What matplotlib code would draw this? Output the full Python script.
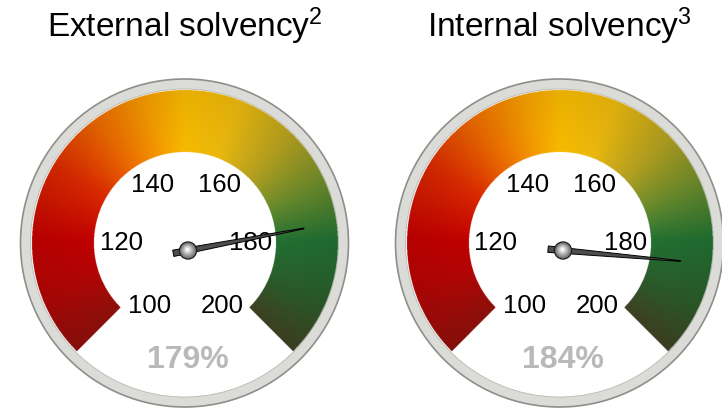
import numpy as np
import matplotlib
matplotlib.use("Agg")
from matplotlib import pyplot as plt
from matplotlib.patches import Circle, Polygon
from matplotlib.colors import LinearSegmentedColormap

plt.rcParams['mathtext.fontset'] = 'custom'
plt.rcParams['mathtext.rm'] = 'Liberation Sans'
plt.rcParams['mathtext.it'] = 'Liberation Sans'

# gauge data
titles = ['External solvency', 'Internal solvency']
notes = ['2', '3']
values = [179, 184]
scale_labels = [100, 120, 140, 160, 180, 200]
scale_min, scale_max = 100, 200

# layout (pixels, figure is 722x408 at dpi 100)
W, H = 722, 408
centres = [(184.5, 243.0), (559.5, 243.0)]
R_OUT, R_RING, R_BAND_OUT, R_BAND_IN = 164, 154, 153, 91
PIVOT_OFF = (3.5, 7.5)

# label scale and needle scale in degrees (0 = right, counter clockwise)
LBL_START, LBL_SWEEP = 240.0, 300.0
NDL_START, NDL_SWEEP = 262.0, 318.0

font = ['Liberation Sans', 'DejaVu Sans']

band = LinearSegmentedColormap.from_list('band', [
    (0.00, '#8c100b'), (0.10, '#b30505'), (0.17, '#c00000'),
    (0.28, '#da2a00'), (0.37, '#ec6c00'), (0.45, '#f5a000'),
    (0.50, '#f8ba00'), (0.58, '#eab80e'), (0.67, '#b3a020'),
    (0.75, '#6a8b2c'), (0.83, '#217032'), (0.92, '#2b5c2a'),
    (1.00, '#3e4123')])


def draw_band(ax, cx, cy):
    ss = 3
    n = int(2 * R_BAND_OUT + 4)
    x0, y0 = cx - n / 2, cy - n / 2
    xs = x0 + (np.arange(n * ss) + 0.5) / ss
    ys = y0 + (np.arange(n * ss) + 0.5) / ss
    X, Y = np.meshgrid(xs, ys)
    dx, dy = X - cx, cy - Y
    r = np.hypot(dx, dy)
    th = np.degrees(np.arctan2(dy, dx))
    th = np.where(th < -90, th + 360, th)
    t = (225 - th) / 270.0
    rgba = band(np.clip(t, 0, 1))
    # slight darkening toward the outer rim
    shade = 1 - 0.06 * np.clip((r - R_BAND_IN) / (R_BAND_OUT - R_BAND_IN), 0, 1)
    rgba[..., :3] *= shade[..., None]
    inside = (r >= R_BAND_IN) & (r <= R_BAND_OUT) & (t >= 0) & (t <= 1)
    rgba[..., 3] = inside
    ax.imshow(rgba, extent=(x0, x0 + n, y0 + n, y0), origin='upper',
              interpolation='antialiased', zorder=3)


def draw_gauge(ax, cx, cy, title, note, value):
    ax.add_patch(Circle((cx, cy), R_OUT, fc='#dbdbd7', ec='#8e8e8c', lw=1.2, zorder=1))
    ax.add_patch(Circle((cx, cy), R_RING, fc='white', ec='#b8b8b4', lw=0.6, zorder=2))
    draw_band(ax, cx, cy)

    # scale numbers, pushed out a little below the centre line
    for v in scale_labels:
        a = np.radians(LBL_START - LBL_SWEEP * (v - scale_min) / (scale_max - scale_min))
        rl = 65 + 9 * max(0.0, -np.sin(a)) + 4 * max(0.0, np.sin(a)) * abs(np.cos(a))
        ax.text(cx + 1.5 + rl * np.cos(a), cy - rl * np.sin(a), str(v), ha='center',
                va='center', fontsize=18.5, family=font, color='black', zorder=5)

    # needle
    px, py = cx + PIVOT_OFF[0], cy + PIVOT_OFF[1]
    a = np.radians(NDL_START - NDL_SWEEP * (value - scale_min) / (scale_max - scale_min))
    u = np.array([np.cos(a), -np.sin(a)])
    nrm = np.array([np.sin(a), np.cos(a)])
    p = np.array([px, py])
    pts = [p - 15 * u + 3.2 * nrm, p + 118 * u + 0.4 * nrm,
           p + 118 * u - 0.4 * nrm, p - 15 * u - 3.2 * nrm]
    ax.add_patch(Polygon(pts, closed=True, fc='#4e4e4e', ec='black', lw=0.7, zorder=6))

    # pivot ball
    ax.add_patch(Circle((px, py), 8.5, fc='#707070', ec='#1e1e1e', lw=1.0, zorder=7))
    for k, rr in enumerate(np.linspace(7.8, 1.0, 14)):
        g = 0.45 + 0.55 * k / 13
        ax.add_patch(Circle((px - 0.6 * k / 13, py - 1.2 * k / 13), rr,
                            fc=(g, g, g), ec='none', zorder=8))

    ax.text(px, cy + 117, '%d%%' % value, ha='center', va='center', fontsize=23,
            fontweight='bold', family=font, color='#b9b9b9', zorder=5)
    ax.text(cx, 37, title + '$^{' + note + '}$', ha='center', va='baseline',
            fontsize=24, family=font, color='black')


fig = plt.figure(figsize=(W / 100, H / 100), dpi=100)
ax = fig.add_axes([0, 0, 1, 1])
for (cx, cy), title, note, value in zip(centres, titles, notes, values):
    draw_gauge(ax, cx, cy, title, note, value)
ax.set_xlim(0, W)
ax.set_ylim(H, 0)
ax.axis('off')
fig.savefig('out.png', dpi=100, facecolor='white')
